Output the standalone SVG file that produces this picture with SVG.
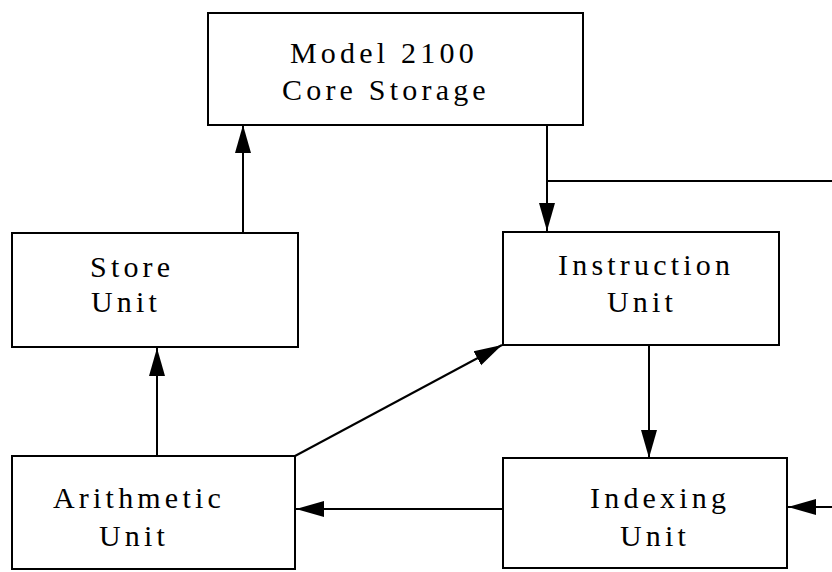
<svg xmlns="http://www.w3.org/2000/svg" width="832" height="572" viewBox="0 0 832 572">
  <style>
    .box { fill: #ffffff; stroke: #000000; stroke-width: 2; }
    .label { font-family: "Liberation Serif", "DejaVu Serif", serif; font-size: 30px; letter-spacing: 4.2px; fill: #000000; }
    .wire { fill: none; stroke: #000000; stroke-width: 2; }
  </style>
  <defs>
    <marker id="head" markerUnits="userSpaceOnUse" markerWidth="30" markerHeight="20" viewBox="0 0 30 20" refX="28" refY="9" orient="auto">
      <path d="M0,1 L28,9 L0,17 Z" fill="#000000"/>
    </marker>
  </defs>

  <rect width="832" height="572" fill="#ffffff"/>

  <g id="connectors">
    <!-- Store Unit up to Core Storage -->
    <line class="wire" x1="243" y1="233" x2="243" y2="125" marker-end="url(#head)"/>
    <!-- Core Storage down to Instruction Unit -->
    <line class="wire" x1="547" y1="125" x2="547" y2="231" marker-end="url(#head)"/>
    <!-- branch leaving to the right -->
    <line class="wire" x1="547" y1="181" x2="832" y2="181"/>
    <!-- Instruction Unit down to Indexing Unit -->
    <line class="wire" x1="649" y1="345" x2="649" y2="458" marker-end="url(#head)"/>
    <!-- incoming line from the right into Indexing Unit -->
    <line class="wire" x1="832" y1="507" x2="788" y2="507" marker-end="url(#head)"/>
    <!-- Indexing Unit to Arithmetic Unit -->
    <line class="wire" x1="503" y1="509" x2="296" y2="509" marker-end="url(#head)"/>
    <!-- Arithmetic Unit up to Store Unit -->
    <line class="wire" x1="157" y1="456" x2="157" y2="348" marker-end="url(#head)"/>
    <!-- Arithmetic Unit to Instruction Unit -->
    <line class="wire" x1="295" y1="456" x2="502" y2="345" marker-end="url(#head)"/>
  </g>

  <g id="core-storage">
    <rect class="box" x="208" y="13" width="375" height="112"/>
    <text class="label" x="290" y="63">Model 2100</text>
    <text class="label" x="282" y="100">Core Storage</text>
  </g>

  <g id="store-unit">
    <rect class="box" x="12" y="233" width="286" height="114"/>
    <text class="label" x="90" y="277">Store</text>
    <text class="label" x="91" y="312">Unit</text>
  </g>

  <g id="instruction-unit">
    <rect class="box" x="503" y="232" width="276" height="113"/>
    <text class="label" x="558" y="275">Instruction</text>
    <text class="label" x="607" y="312">Unit</text>
  </g>

  <g id="arithmetic-unit">
    <rect class="box" x="12" y="456" width="283" height="113"/>
    <text class="label" x="53" y="508">Arithmetic</text>
    <text class="label" x="99" y="546">Unit</text>
  </g>

  <g id="indexing-unit">
    <rect class="box" x="503" y="458" width="284" height="110"/>
    <text class="label" x="590" y="508">Indexing</text>
    <text class="label" x="620" y="546">Unit</text>
  </g>
</svg>
